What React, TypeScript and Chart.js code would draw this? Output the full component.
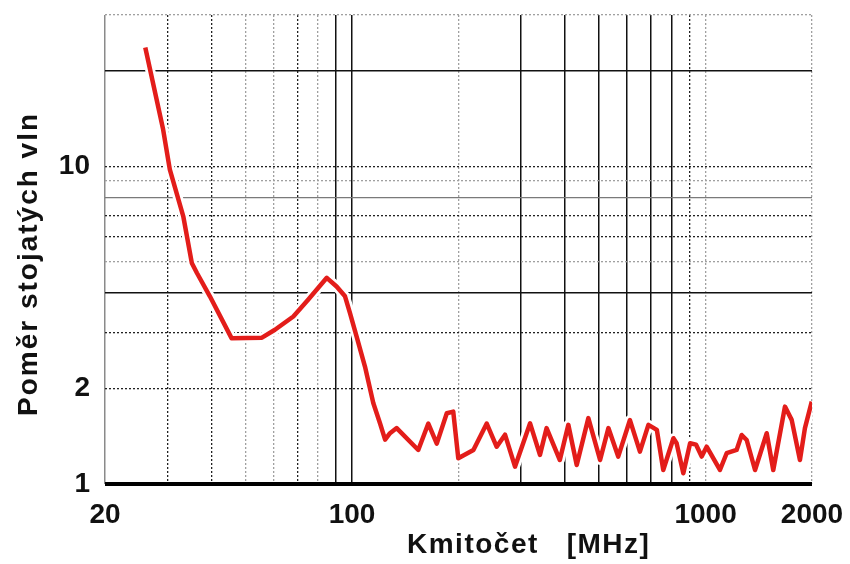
import React, { useEffect, useRef } from 'react';
import { Chart, registerables } from 'chart.js';

Chart.register(...registerables);

// Frequency (MHz) and standing wave ratio
const FREQ_MHZ = [
  26, 29.2, 30.5, 33.3, 35.2, 36.4, 39.6, 45.6, 55.6, 60.5, 68.2, 75.2, 84.8, 90.4, 95.5, 98.6,
  103, 108.8, 114.8, 120, 124, 128, 133.7, 153.9, 164.3, 173.6, 185.3, 193.3, 199.7, 220.4, 240.4,
  256.5, 270.8, 289, 318.8, 340, 355, 387, 409, 432, 466, 503, 531, 566, 611, 652, 689, 728, 759, 811,
  828, 865, 904, 940, 975, 1007, 1098, 1147, 1224, 1265, 1307, 1380, 1489, 1554, 1677, 1752, 1849, 1910, 1997,
];
const VSWR = [
  23.7, 13.1, 9.8, 6.97, 4.97, 4.62, 3.9, 2.88, 2.89, 3.06, 3.37, 3.81, 4.46, 4.19, 3.9, 3.46,
  2.91, 2.34, 1.8, 1.55, 1.38, 1.445, 1.5, 1.28, 1.55, 1.34, 1.67, 1.69, 1.205, 1.28, 1.55,
  1.31, 1.43, 1.134, 1.553, 1.235, 1.5, 1.19, 1.536, 1.148, 1.612, 1.19, 1.5, 1.22, 1.59, 1.264, 1.536, 1.48, 1.107, 1.394,
  1.344, 1.081, 1.344, 1.33, 1.22, 1.311, 1.107, 1.25, 1.28, 1.427, 1.376, 1.107, 1.445, 1.107, 1.753, 1.592, 1.19, 1.5, 1.818,
];

const X_TICKS = [20, 30, 40, 50, 60, 70, 80, 90, 100, 200, 300, 400, 500, 600, 700, 800, 900, 1000, 2000];
const X_LABELS = [20, 100, 1000, 2000];
const Y_TICKS = [1, 2, 3, 4, 5, 6, 7, 8, 9, 10, 20, 30];
const Y_LABELS = [1, 2, 10];
const X_TITLE = 'Kmitočet   [MHz]';
const Y_TITLE = 'Poměr stojatých vln';

type LineStyle = { color: string; width: number; dash: number[] };
const SOLID: LineStyle = { color: '#111', width: 1.5, dash: [] };
const DARK_DOT: LineStyle = { color: '#222', width: 1.3, dash: [2, 2] };
const LIGHT_DOT: LineStyle = { color: '#a0a0a0', width: 1.3, dash: [2, 2] };
const BORDER_L: LineStyle = { color: '#8a8a8a', width: 1.5, dash: [] };
const BASE: LineStyle = { color: '#000', width: 4, dash: [] };
const THIN_GREY: LineStyle = { color: '#7a7a7a', width: 1.2, dash: [] };

const X_STYLE: Record<number, LineStyle> = {
  20: BORDER_L, 30: DARK_DOT, 40: DARK_DOT, 50: LIGHT_DOT, 60: LIGHT_DOT, 70: DARK_DOT, 80: LIGHT_DOT,
  90: SOLID, 100: SOLID, 200: LIGHT_DOT, 300: SOLID, 400: SOLID, 500: SOLID, 600: SOLID, 700: SOLID,
  800: SOLID, 900: DARK_DOT, 1000: LIGHT_DOT, 2000: LIGHT_DOT,
};
const Y_STYLE: Record<number, LineStyle> = {
  1: BASE, 2: DARK_DOT, 3: DARK_DOT, 4: SOLID, 5: LIGHT_DOT, 6: DARK_DOT, 7: DARK_DOT, 8: THIN_GREY,
  9: LIGHT_DOT, 10: DARK_DOT, 20: SOLID, 30: LIGHT_DOT,
};

const FONT_FAMILY = '"Liberation Sans", Arial, sans-serif';

const titlePlugin = {
  id: 'axisTitles',
  afterDraw(chart: any) {
    const ctx: CanvasRenderingContext2D = chart.ctx;
    ctx.save();
    ctx.fillStyle = '#111';
    ctx.font = `bold 28px ${FONT_FAMILY}`;
    (ctx as any).letterSpacing = '1.5px';
    ctx.textAlign = 'left';
    ctx.textBaseline = 'alphabetic';
    ctx.fillText(X_TITLE, 407, 553);
    ctx.restore();

    ctx.save();
    ctx.fillStyle = '#111';
    ctx.font = `bold 28px ${FONT_FAMILY}`;
    (ctx as any).letterSpacing = '2px';
    ctx.translate(37, 264);
    ctx.rotate(-Math.PI / 2);
    ctx.textAlign = 'center';
    ctx.textBaseline = 'alphabetic';
    ctx.fillText(Y_TITLE, 0, 0);
    ctx.restore();
  },
};

function gridFor(styles: Record<number, LineStyle>) {
  const get = (c: any) => styles[c.tick?.value] || LIGHT_DOT;
  return {
    grid: {
      drawTicks: false,
      drawOnChartArea: true,
      color: (c: any) => get(c).color,
      lineWidth: (c: any) => get(c).width,
    },
    border: {
      display: false,
      dash: (c: any) => get(c).dash,
    },
  };
}

export default function App() {
  const ref = useRef<HTMLCanvasElement | null>(null);

  useEffect(() => {
    if (!ref.current) return;
    const mk = () => FREQ_MHZ.map((f, i) => ({ x: f, y: VSWR[i] }));
    const chart = new Chart(ref.current, {
      type: 'line',
      data: {
        datasets: [
          {
            label: 'ČSV',
            data: mk(),
            borderColor: '#e31d1a',
            borderWidth: 4.5,
            pointRadius: 0,
            tension: 0,
            borderJoinStyle: 'round',
            order: 1,
          },
          {
            label: 'halo',
            data: mk(),
            borderColor: '#ffffff',
            borderWidth: 10,
            pointRadius: 0,
            tension: 0,
            borderJoinStyle: 'round',
            order: 2,
          },
        ],
      },
      options: {
        animation: false,
        responsive: false,
        devicePixelRatio: 1,
        layout: { padding: { left: 0, top: 15, right: 38, bottom: 0 } },
        plugins: { legend: { display: false }, tooltip: { enabled: false }, title: { display: false } },
        scales: {
          x: {
            type: 'logarithmic',
            min: 20,
            max: 2000,
            afterBuildTicks: (s: any) => { s.ticks = X_TICKS.map((v) => ({ value: v })); },
            afterFit: (s: any) => { s.height = 80; s.paddingLeft = 0; s.paddingRight = 0; },
            ticks: {
              autoSkip: false,
              maxRotation: 0,
              minRotation: 0,
              padding: 17,
              color: '#111',
              font: { family: FONT_FAMILY, size: 28, weight: 'bold', lineHeight: 1 },
              callback: (v: any) => (X_LABELS.includes(Number(v)) ? String(v) : ''),
            },
            ...gridFor(X_STYLE),
          },
          y: {
            type: 'logarithmic',
            min: 1,
            max: 30,
            afterBuildTicks: (s: any) => { s.ticks = Y_TICKS.map((v) => ({ value: v })); },
            afterFit: (s: any) => { s.width = 105; s.paddingTop = 0; s.paddingBottom = 0; },
            ticks: {
              autoSkip: false,
              padding: 15,
              color: '#111',
              font: { family: FONT_FAMILY, size: 28, weight: 'bold', lineHeight: 1 },
              callback: (v: any) => (Y_LABELS.includes(Number(v)) ? String(v) : ''),
            },
            ...gridFor(Y_STYLE),
          },
        },
      } as any,
      plugins: [titlePlugin],
    });
    return () => chart.destroy();
  }, []);

  return (
    <div style={{ position: 'absolute', left: 0, top: 0, width: 850, height: 564, background: '#fff' }}>
      <canvas ref={ref} width={850} height={564} style={{ display: 'block' }} />
    </div>
  );
}
